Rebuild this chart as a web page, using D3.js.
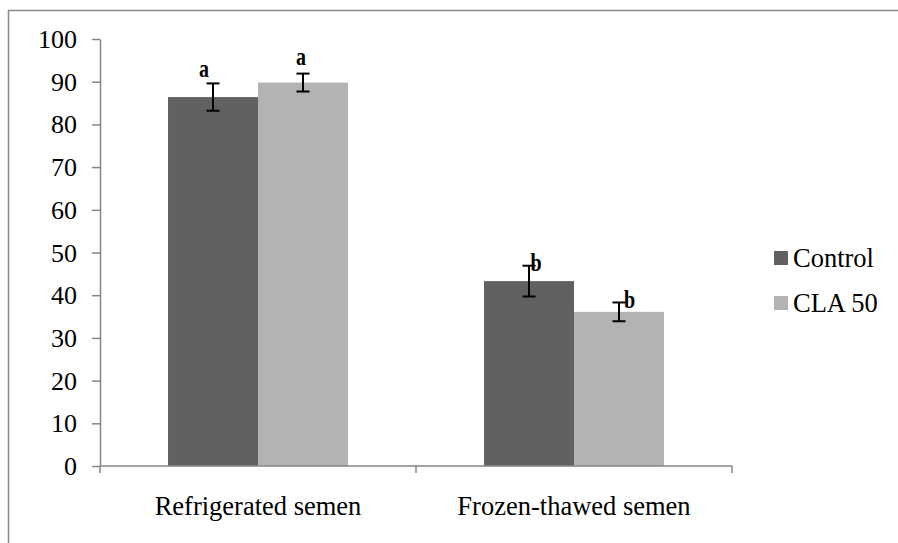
<!DOCTYPE html>
<html>
<head>
<meta charset="utf-8">
<script src="https://cdn.jsdelivr.net/npm/d3@7"></script>
<style>
  html, body { margin: 0; padding: 0; background: #fff; }
  svg { display: block; }
</style>
</head>
<body>
<svg id="chart" width="898" height="543"></svg>
<script>
// ---- data ----
const categories = ["Refrigerated semen", "Frozen-thawed semen"];
const seriesNames = ["Control", "CLA 50"];
const controlValues = [86.4, 43.3];
const cla50Values = [89.8, 36.1];
const controlErrors = [3.2, 3.6];
const cla50Errors = [2.1, 2.2];
const controlLetters = ["a", "b"];
const cla50Letters = ["a", "b"];
const yTicks = [0, 10, 20, 30, 40, 50, 60, 70, 80, 90, 100];

// ---- layout / style ----
const FONT = "Liberation Serif";
const colors = ["#616161", "#b3b3b3"];
const axisColor = "#868686";
// letter label nudges (px) relative to bar centre / error-bar top, per [category][series]
const sigDx = [[-9, -2], [7, 10.5]];
const sigDy = [[-6, -8.7], [5, 5.7]];

const svg = d3.select("#chart");

// outer frame (only top and left edges visible)
svg.append("path")
  .attr("d", "M8.5,543 V10.5 H898")
  .attr("fill", "none").attr("stroke", "#8a8a8a").attr("stroke-width", 1.5);

const y = d3.scaleLinear().domain([0, 100]).range([466, 39]);
const x0 = d3.scaleBand().domain(categories).range([100, 732]).padding(0);
const x1 = d3.scaleBand().domain(seriesNames).range([0, x0.bandwidth()])
  .paddingInner(0).paddingOuter(0.756);

const rows = categories.map((c, i) => ({
  cat: c, i,
  vals: [
    { s: seriesNames[0], j: 0, v: controlValues[i], e: controlErrors[i], l: controlLetters[i] },
    { s: seriesNames[1], j: 1, v: cla50Values[i], e: cla50Errors[i], l: cla50Letters[i] }
  ]
}));

// y axis
const yAxis = svg.append("g").attr("transform", "translate(100,0)")
  .call(d3.axisLeft(y).tickValues(yTicks).tickSize(8).tickSizeOuter(0).tickPadding(15));
yAxis.attr("font-family", null).attr("font-size", null);
yAxis.select(".domain").attr("stroke", axisColor).attr("stroke-width", 1.5);
yAxis.selectAll(".tick line").attr("stroke", axisColor).attr("stroke-width", 1.5);
yAxis.selectAll(".tick text")
  .style("font-family", FONT).style("font-size", "26px").attr("fill", "#000")
  .attr("dy", "0.33em");

// bars
const groups = svg.append("g").selectAll("g").data(rows).join("g")
  .attr("transform", d => `translate(${x0(d.cat)},0)`);

groups.selectAll("rect").data(d => d.vals).join("rect")
  .attr("x", d => x1(d.s))
  .attr("y", d => y(d.v))
  .attr("width", x1.bandwidth())
  .attr("height", d => y(0) - y(d.v))
  .attr("fill", d => colors[d.j]);

// x axis line and boundary ticks
svg.append("line")
  .attr("x1", x0.range()[0]).attr("x2", x0.range()[1])
  .attr("y1", y(0)).attr("y2", y(0))
  .attr("stroke", axisColor).attr("stroke-width", 1.5);
const bounds = [x0(categories[0])].concat(categories.map(c => x0(c) + x0.bandwidth()));
svg.append("g").selectAll("line").data(bounds).join("line")
  .attr("x1", d => d).attr("x2", d => d)
  .attr("y1", y(0)).attr("y2", y(0) + 7)
  .attr("stroke", axisColor).attr("stroke-width", 1.5);

// category labels
svg.append("g").selectAll("text").data(categories).join("text")
  .attr("x", d => x0(d) + x0.bandwidth() / 2)
  .attr("y", y(0) + 49)
  .attr("text-anchor", "middle")
  .style("font-family", FONT).style("font-size", "26.5px")
  .attr("fill", "#000")
  .text(d => d);

// error bars
const capW = 6.5;
groups.each(function(d) {
  const g = d3.select(this);
  d.vals.forEach(v => {
    const cx = x1(v.s) + x1.bandwidth() / 2;
    const top = y(v.v + v.e), bot = y(v.v - v.e);
    const eg = g.append("g").attr("stroke", "#000").attr("stroke-width", 2);
    eg.append("line").attr("x1", cx).attr("x2", cx).attr("y1", top).attr("y2", bot);
    eg.append("line").attr("x1", cx - capW).attr("x2", cx + capW).attr("y1", top).attr("y2", top);
    eg.append("line").attr("x1", cx - capW).attr("x2", cx + capW).attr("y1", bot).attr("y2", bot);
    // significance letter
    g.append("text")
      .attr("transform", `translate(${cx + sigDx[d.i][v.j]},${top + sigDy[d.i][v.j]}) scale(0.8,1)`)
      .attr("text-anchor", "middle")
      .style("font-family", FONT).style("font-size", "25px").style("font-weight", "bold")
      .attr("fill", "#000")
      .text(v.l);
  });
});

// legend
const legend = svg.append("g").selectAll("g").data(seriesNames).join("g")
  .attr("transform", (d, i) => `translate(774,${251 + i * 45})`);
legend.append("rect").attr("width", 14).attr("height", 14)
  .attr("fill", (d, i) => colors[i]);
legend.append("text").attr("x", 19).attr("y", 16)
  .style("font-family", FONT).style("font-size", "26.5px")
  .attr("fill", "#000")
  .text(d => d);
</script>
</body>
</html>
